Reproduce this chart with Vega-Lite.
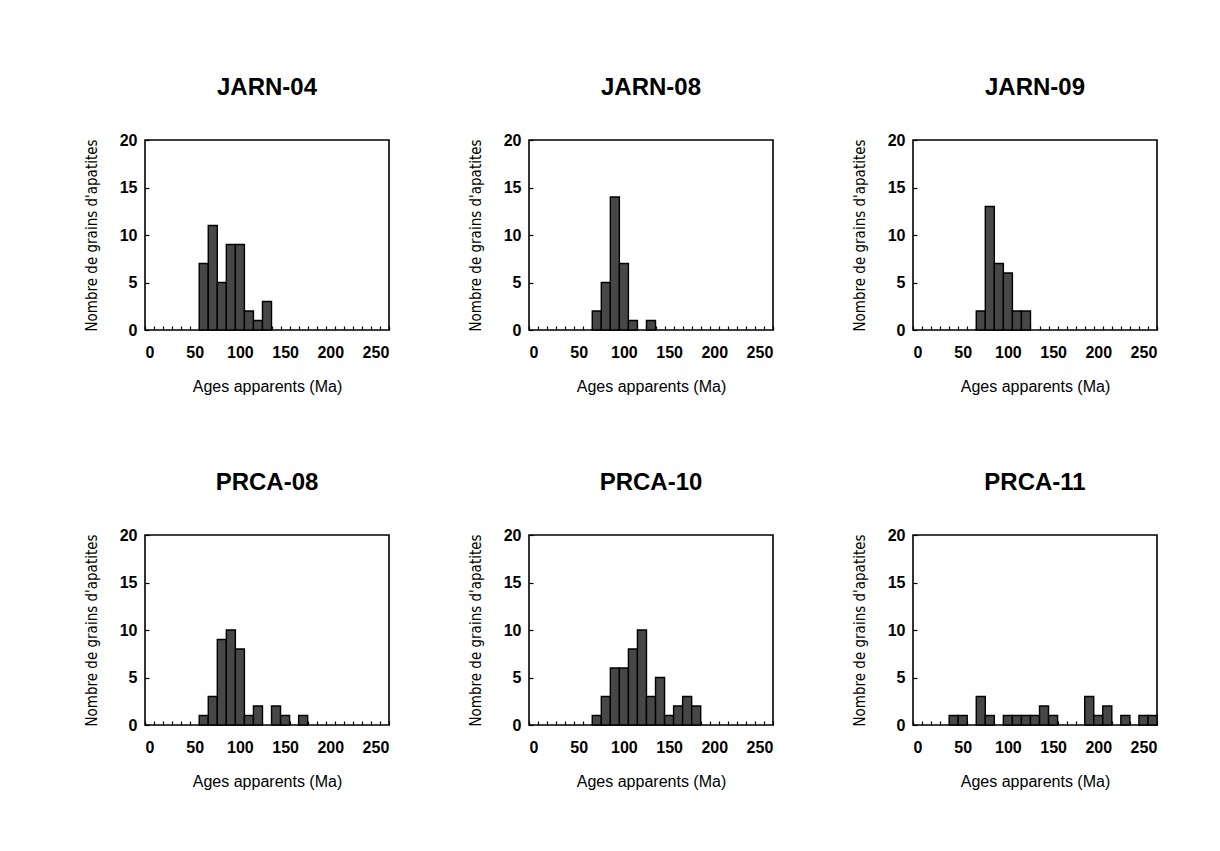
{
  "$schema": "https://vega.github.io/schema/vega-lite/v6.json",
  "padding": {"left": 83, "top": 75, "right": 5, "bottom": 5},
  "background": "white",
  "datasets": {
    "counts": [
      {"sample": "JARN-04", "age": 60, "n": 7},
      {"sample": "JARN-04", "age": 70, "n": 11},
      {"sample": "JARN-04", "age": 80, "n": 5},
      {"sample": "JARN-04", "age": 90, "n": 9},
      {"sample": "JARN-04", "age": 100, "n": 9},
      {"sample": "JARN-04", "age": 110, "n": 2},
      {"sample": "JARN-04", "age": 120, "n": 1},
      {"sample": "JARN-04", "age": 130, "n": 3},
      {"sample": "JARN-08", "age": 70, "n": 2},
      {"sample": "JARN-08", "age": 80, "n": 5},
      {"sample": "JARN-08", "age": 90, "n": 14},
      {"sample": "JARN-08", "age": 100, "n": 7},
      {"sample": "JARN-08", "age": 110, "n": 1},
      {"sample": "JARN-08", "age": 130, "n": 1},
      {"sample": "JARN-09", "age": 70, "n": 2},
      {"sample": "JARN-09", "age": 80, "n": 13},
      {"sample": "JARN-09", "age": 90, "n": 7},
      {"sample": "JARN-09", "age": 100, "n": 6},
      {"sample": "JARN-09", "age": 110, "n": 2},
      {"sample": "JARN-09", "age": 120, "n": 2},
      {"sample": "PRCA-08", "age": 60, "n": 1},
      {"sample": "PRCA-08", "age": 70, "n": 3},
      {"sample": "PRCA-08", "age": 80, "n": 9},
      {"sample": "PRCA-08", "age": 90, "n": 10},
      {"sample": "PRCA-08", "age": 100, "n": 8},
      {"sample": "PRCA-08", "age": 110, "n": 1},
      {"sample": "PRCA-08", "age": 120, "n": 2},
      {"sample": "PRCA-08", "age": 140, "n": 2},
      {"sample": "PRCA-08", "age": 150, "n": 1},
      {"sample": "PRCA-08", "age": 170, "n": 1},
      {"sample": "PRCA-10", "age": 70, "n": 1},
      {"sample": "PRCA-10", "age": 80, "n": 3},
      {"sample": "PRCA-10", "age": 90, "n": 6},
      {"sample": "PRCA-10", "age": 100, "n": 6},
      {"sample": "PRCA-10", "age": 110, "n": 8},
      {"sample": "PRCA-10", "age": 120, "n": 10},
      {"sample": "PRCA-10", "age": 130, "n": 3},
      {"sample": "PRCA-10", "age": 140, "n": 5},
      {"sample": "PRCA-10", "age": 150, "n": 1},
      {"sample": "PRCA-10", "age": 160, "n": 2},
      {"sample": "PRCA-10", "age": 170, "n": 3},
      {"sample": "PRCA-10", "age": 180, "n": 2},
      {"sample": "PRCA-11", "age": 40, "n": 1},
      {"sample": "PRCA-11", "age": 50, "n": 1},
      {"sample": "PRCA-11", "age": 70, "n": 3},
      {"sample": "PRCA-11", "age": 80, "n": 1},
      {"sample": "PRCA-11", "age": 100, "n": 1},
      {"sample": "PRCA-11", "age": 110, "n": 1},
      {"sample": "PRCA-11", "age": 120, "n": 1},
      {"sample": "PRCA-11", "age": 130, "n": 1},
      {"sample": "PRCA-11", "age": 140, "n": 2},
      {"sample": "PRCA-11", "age": 150, "n": 1},
      {"sample": "PRCA-11", "age": 190, "n": 3},
      {"sample": "PRCA-11", "age": 200, "n": 1},
      {"sample": "PRCA-11", "age": 210, "n": 2},
      {"sample": "PRCA-11", "age": 230, "n": 1},
      {"sample": "PRCA-11", "age": 250, "n": 1},
      {"sample": "PRCA-11", "age": 260, "n": 1}
    ]
  },
  "data": {"name": "counts"},
  "columns": 3,
  "bounds": "flush",
  "spacing": {"row": 205, "column": 140},
  "concat": [
    {
      "title": {"text": "JARN-04"},
      "width": 244, "height": 190,
      "transform": [{"filter": "datum.sample === 'JARN-04'"}],
      "mark": {"type": "bar", "fill": "#474747", "stroke": "#000000", "strokeWidth": 1.4},
      "encoding": {
        "x": {"field": "age", "type": "ordinal", "title": "Ages apparents (Ma)",
              "scale": {"domain": [0,10,20,30,40,50,60,70,80,90,100,110,120,130,140,150,160,170,180,190,200,210,220,230,240,250,260], "paddingInner": 0, "paddingOuter": 0},
              "axis": {"labelExpr": "datum.value % 50 === 0 ? datum.label : ''", "labelOverlap": false, "labelAngle": 0, "tickBand": "extent"}},
        "y": {"field": "n", "type": "quantitative", "title": "Nombre de grains d'apatites",
              "scale": {"domain": [0, 20], "nice": false},
              "axis": {"values": [0, 5, 10, 15, 20]}}
      }
    },
    {
      "title": {"text": "JARN-08"},
      "width": 244, "height": 190,
      "transform": [{"filter": "datum.sample === 'JARN-08'"}],
      "mark": {"type": "bar", "fill": "#474747", "stroke": "#000000", "strokeWidth": 1.4},
      "encoding": {
        "x": {"field": "age", "type": "ordinal", "title": "Ages apparents (Ma)",
              "scale": {"domain": [0,10,20,30,40,50,60,70,80,90,100,110,120,130,140,150,160,170,180,190,200,210,220,230,240,250,260], "paddingInner": 0, "paddingOuter": 0},
              "axis": {"labelExpr": "datum.value % 50 === 0 ? datum.label : ''", "labelOverlap": false, "labelAngle": 0, "tickBand": "extent"}},
        "y": {"field": "n", "type": "quantitative", "title": "Nombre de grains d'apatites",
              "scale": {"domain": [0, 20], "nice": false},
              "axis": {"values": [0, 5, 10, 15, 20]}}
      }
    },
    {
      "title": {"text": "JARN-09"},
      "width": 244, "height": 190,
      "transform": [{"filter": "datum.sample === 'JARN-09'"}],
      "mark": {"type": "bar", "fill": "#474747", "stroke": "#000000", "strokeWidth": 1.4},
      "encoding": {
        "x": {"field": "age", "type": "ordinal", "title": "Ages apparents (Ma)",
              "scale": {"domain": [0,10,20,30,40,50,60,70,80,90,100,110,120,130,140,150,160,170,180,190,200,210,220,230,240,250,260], "paddingInner": 0, "paddingOuter": 0},
              "axis": {"labelExpr": "datum.value % 50 === 0 ? datum.label : ''", "labelOverlap": false, "labelAngle": 0, "tickBand": "extent"}},
        "y": {"field": "n", "type": "quantitative", "title": "Nombre de grains d'apatites",
              "scale": {"domain": [0, 20], "nice": false},
              "axis": {"values": [0, 5, 10, 15, 20]}}
      }
    },
    {
      "title": {"text": "PRCA-08"},
      "width": 244, "height": 190,
      "transform": [{"filter": "datum.sample === 'PRCA-08'"}],
      "mark": {"type": "bar", "fill": "#474747", "stroke": "#000000", "strokeWidth": 1.4},
      "encoding": {
        "x": {"field": "age", "type": "ordinal", "title": "Ages apparents (Ma)",
              "scale": {"domain": [0,10,20,30,40,50,60,70,80,90,100,110,120,130,140,150,160,170,180,190,200,210,220,230,240,250,260], "paddingInner": 0, "paddingOuter": 0},
              "axis": {"labelExpr": "datum.value % 50 === 0 ? datum.label : ''", "labelOverlap": false, "labelAngle": 0, "tickBand": "extent"}},
        "y": {"field": "n", "type": "quantitative", "title": "Nombre de grains d'apatites",
              "scale": {"domain": [0, 20], "nice": false},
              "axis": {"values": [0, 5, 10, 15, 20]}}
      }
    },
    {
      "title": {"text": "PRCA-10"},
      "width": 244, "height": 190,
      "transform": [{"filter": "datum.sample === 'PRCA-10'"}],
      "mark": {"type": "bar", "fill": "#474747", "stroke": "#000000", "strokeWidth": 1.4},
      "encoding": {
        "x": {"field": "age", "type": "ordinal", "title": "Ages apparents (Ma)",
              "scale": {"domain": [0,10,20,30,40,50,60,70,80,90,100,110,120,130,140,150,160,170,180,190,200,210,220,230,240,250,260], "paddingInner": 0, "paddingOuter": 0},
              "axis": {"labelExpr": "datum.value % 50 === 0 ? datum.label : ''", "labelOverlap": false, "labelAngle": 0, "tickBand": "extent"}},
        "y": {"field": "n", "type": "quantitative", "title": "Nombre de grains d'apatites",
              "scale": {"domain": [0, 20], "nice": false},
              "axis": {"values": [0, 5, 10, 15, 20]}}
      }
    },
    {
      "title": {"text": "PRCA-11"},
      "width": 244, "height": 190,
      "transform": [{"filter": "datum.sample === 'PRCA-11'"}],
      "mark": {"type": "bar", "fill": "#474747", "stroke": "#000000", "strokeWidth": 1.4},
      "encoding": {
        "x": {"field": "age", "type": "ordinal", "title": "Ages apparents (Ma)",
              "scale": {"domain": [0,10,20,30,40,50,60,70,80,90,100,110,120,130,140,150,160,170,180,190,200,210,220,230,240,250,260], "paddingInner": 0, "paddingOuter": 0},
              "axis": {"labelExpr": "datum.value % 50 === 0 ? datum.label : ''", "labelOverlap": false, "labelAngle": 0, "tickBand": "extent"}},
        "y": {"field": "n", "type": "quantitative", "title": "Nombre de grains d'apatites",
              "scale": {"domain": [0, 20], "nice": false},
              "axis": {"values": [0, 5, 10, 15, 20]}}
      }
    }
  ],
  "config": {
    "font": "Liberation Sans",
    "view": {"stroke": "#000000", "strokeWidth": 1.6},
    "title": {"font": "Liberation Sans", "fontSize": 24, "fontWeight": "bold", "color": "#000000", "offset": 32, "anchor": "middle"},
    "axis": {
      "domain": false,
      "grid": false,
      "tickColor": "#000000",
      "tickSize": -4,
      "tickWidth": 1.2,
      "labelColor": "#000000",
      "labelFont": "Liberation Sans",
      "labelFontSize": 16,
      "labelFontWeight": "bold",
      "titleColor": "#000000",
      "titleFontWeight": "normal"
    },
    "axisX": {
      "labelPadding": 18,
      "titleFont": "Liberation Sans",
      "titleFontSize": 16,
      "titlePadding": 18
    },
    "axisY": {
      "labelPadding": 12,
      "titleFont": "Liberation Sans Narrow, DejaVu Sans Condensed, Liberation Sans",
      "titleFontSize": 15,
      "titlePadding": 20
    }
  }
}
